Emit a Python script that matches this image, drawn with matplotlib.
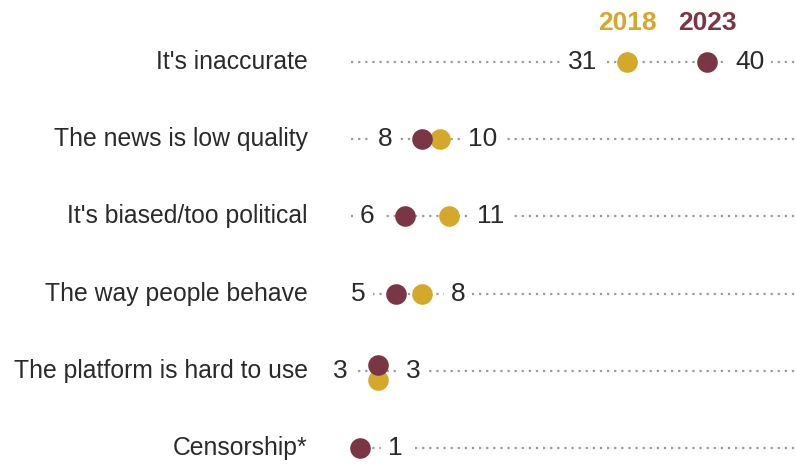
import matplotlib.pyplot as plt

categories = ["It's inaccurate", "The news is low quality", "It's biased/too political",
              "The way people behave", "The platform is hard to use", "Censorship*"]
vals_2018 = [31, 10, 11, 8, 3, None]
vals_2023 = [40, 8, 6, 5, 3, 1]

gold = "#D4A82A"
maroon = "#7A3645"
plt.rcParams['font.family'] = ['Liberation Sans', 'DejaVu Sans']

fig = plt.figure(figsize=(7.96, 4.65), dpi=100)
ax = fig.add_axes([0, 0, 1, 1])
# x in data units (percent), y in pixel rows
ax.set_xlim(-39.5, 50)
ax.set_ylim(465, 0)
ax.axis("off")

px = 8.89  # pixels per percent point
row_y = [62 + 77.2 * i for i in range(len(categories))]

for i, cat in enumerate(categories):
    y = row_y[i]
    ax.plot([0, 50], [y, y], color="#9b9b9b", lw=1.6, ls=(0, (1, 2.2)), zorder=1)
    ax.text(-4.9, y, cat, ha="right", va="center", fontsize=17.8, color="#2a2a2a")

    a, b = vals_2018[i], vals_2023[i]
    pts = [v for v in (a, b) if v is not None]
    lo, hi = min(pts), max(pts)
    if a is not None and b is not None and a == b:
        ax.scatter([b], [y - 6], s=220, color=maroon, zorder=4, lw=0)
        ax.scatter([a], [y + 9], s=220, color=gold, zorder=3, lw=0)
    else:
        if a is not None:
            ax.scatter([a], [y], s=220, color=gold, zorder=3, lw=0)
        if b is not None:
            ax.scatter([b], [y], s=220, color=maroon, zorder=3, lw=0)
    box = dict(facecolor="white", edgecolor="none", pad=5)
    if len(pts) == 2:
        ax.text(lo - 30 / px, y, str(lo), ha="right", va="center", fontsize=19,
                color="#2a2a2a", bbox=box, zorder=2)
    ax.text(hi + 28 / px, y, str(hi), ha="left", va="center", fontsize=19,
            color="#2a2a2a", bbox=box, zorder=2)

ax.text(vals_2018[0], 23, "2018", ha="center", va="center", fontsize=19,
        fontweight="bold", color=gold)
ax.text(vals_2023[0], 23, "2023", ha="center", va="center", fontsize=19,
        fontweight="bold", color=maroon)

fig.savefig("out.png", dpi=100)
